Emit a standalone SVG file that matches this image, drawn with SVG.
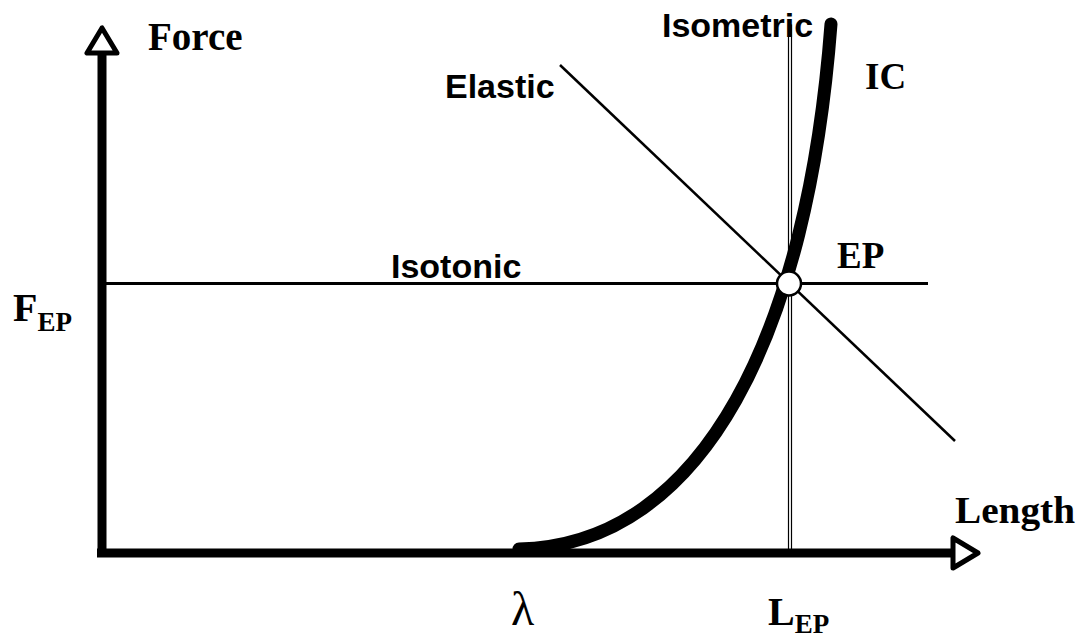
<svg xmlns="http://www.w3.org/2000/svg" width="1087" height="639" viewBox="0 0 1087 639">
<style>
.serif{font-family:"Liberation Serif","Times New Roman",serif;font-weight:bold;fill:#000}
.sans{font-family:"Liberation Sans",Arial,sans-serif;font-weight:bold;fill:#000}
.axis{stroke:#000;stroke-width:9;fill:none}
.head{stroke:#000;stroke-width:5;fill:#fff;stroke-linejoin:round}
</style>
<rect width="1087" height="639" fill="#fff"/>
<g id="connectors">
  <line id="isotonic-line" x1="102" y1="283.5" x2="928" y2="283.5" stroke="#000" stroke-width="3"/>
  <line id="elastic-line" x1="560" y1="65" x2="955" y2="441" stroke="#000" stroke-width="2.5"/>
  <rect id="isometric-line" x="788.5" y="25" width="3" height="528" fill="#fff" stroke="#000" stroke-width="1.2"/>
  <path id="ic-curve" d="M519 549 C705 545 808 330 831 24" fill="none" stroke="#000" stroke-width="13" stroke-linecap="round"/>
  <line id="y-axis" class="axis" x1="102" y1="553" x2="102" y2="54"/>
  <line id="x-axis" class="axis" x1="97" y1="553" x2="953" y2="553"/>
  <polygon class="head" points="102,28 87,53 117,53"/>
  <polygon class="head" points="978,553 953,538 953,568"/>
</g>
<g id="node-ep">
  <circle cx="789" cy="283.5" r="12" fill="#fff" stroke="#000" stroke-width="2.5"/>
  <text class="serif" x="837" y="268" font-size="37">EP</text>
</g>
<g id="label-force"><text class="serif" x="148" y="50" font-size="39">Force</text></g>
<g id="label-length"><text class="serif" x="955" y="523" font-size="37" textLength="120" lengthAdjust="spacingAndGlyphs">Length</text></g>
<g id="label-ic"><text class="serif" x="865" y="89" font-size="37">IC</text></g>
<g id="label-fep"><text class="serif" x="13" y="321" font-size="40">F<tspan font-size="27" y="331">EP</tspan></text></g>
<g id="label-lep"><text class="serif" x="768" y="625" font-size="40">L<tspan font-size="27" y="633">EP</tspan></text></g>
<g id="label-lambda"><text x="511" y="625" font-size="48" font-family="Liberation Serif,Times New Roman,serif" fill="#000">λ</text></g>
<g id="label-isometric"><text class="sans" x="662" y="37" font-size="34">Isometric</text></g>
<g id="label-elastic"><text class="sans" x="445" y="98" font-size="34">Elastic</text></g>
<g id="label-isotonic"><text class="sans" x="391" y="278" font-size="34">Isotonic</text></g>
</svg>
